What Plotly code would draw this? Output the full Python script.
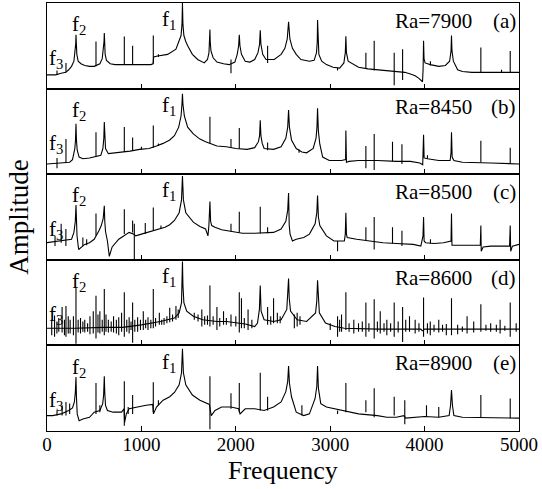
import plotly.graph_objects as go
from plotly.subplots import make_subplots

# ---------------- data (frequency, relative amplitude) ----------------
RA_VALUES = ["Ra=7900", "Ra=8450", "Ra=8500", "Ra=8600", "Ra=8900"]
PANEL_TAGS = ["(a)", "(b)", "(c)", "(d)", "(e)"]
X_TICKS = [0, 1000, 2000, 3000, 4000, 5000]

# smooth part of each spectrum (resonance cusps + background)
CURVE_A = [(0, .16), (90, .16), (150, .18), (200, .19), (230, .22), (260, .26), (285, .32), (298, .42),
           (304, .52), (307, .63), (310, .52), (316, .40), (330, .32), (360, .29), (400, .27), (450, .26),
           (500, .26), (560, .29), (585, .35), (598, .45), (604, .55), (607, .65), (610, .52), (616, .40),
           (630, .33), (670, .29), (720, .28), (800, .28), (950, .28), (1050, .28), (1100, .28), (1124, .29),
           (1130, .37), (1172, .38), (1278, .40), (1366, .46), (1401, .55), (1420, .62), (1430, .75),
           (1435, 1.0), (1440, .75), (1450, .62), (1470, .55), (1490, .50), (1540, .40), (1596, .34),
           (1666, .30), (1700, .34), (1716, .42), (1723, .55), (1726, .69), (1729, .55), (1737, .44),
           (1760, .36), (1800, .31), (1870, .29), (1930, .28), (1990, .31), (2015, .40), (2030, .50),
           (2037, .63), (2044, .50), (2060, .40), (2100, .32), (2150, .31), (2200, .34), (2235, .42),
           (2252, .52), (2259, .68), (2266, .52), (2285, .40), (2320, .34), (2407, .34), (2480, .40),
           (2520, .47), (2545, .58), (2559, .78), (2573, .58), (2600, .47), (2640, .40), (2690, .34),
           (2780, .32), (2830, .33), (2855, .42), (2863, .55), (2866, .80), (2870, .55), (2880, .40),
           (2910, .32), (2960, .28), (3030, .25), (3100, .24), (3145, .30), (3160, .42), (3166, .61),
           (3172, .42), (3190, .32), (3250, .28), (3300, .25), (3400, .23), (3500, .22), (3600, .21),
           (3700, .20), (3790, .19), (3850, .17), (3900, .15), (3940, .12), (3965, .09), (3978, .08),
           (3984, .22), (3989, .56), (3994, .35), (4005, .30), (4060, .28), (4150, .26), (4220, .27),
           (4265, .32), (4280, .44), (4285, .62), (4290, .44), (4305, .32), (4350, .22), (4400, .20),
           (4500, .19), (5000, .19)]

CURVE_B = [(0, .12), (190, .13), (240, .14), (270, .17), (295, .30), (302, .40), (307, .59), (312, .40),
           (320, .28), (340, .20), (380, .18), (450, .19), (500, .20), (570, .22), (592, .30), (602, .42),
           (607, .61), (612, .42), (620, .30), (650, .24), (750, .25), (880, .27), (980, .29), (1080, .30),
           (1160, .33), (1230, .36), (1300, .40), (1350, .45), (1395, .55), (1420, .68), (1430, .82),
           (1435, .94), (1440, .82), (1455, .68), (1490, .55), (1550, .47), (1620, .41), (1680, .38),
           (1800, .33), (1900, .32), (2000, .30), (2120, .29), (2200, .31), (2240, .38), (2252, .45),
           (2259, .63), (2266, .45), (2280, .36), (2300, .30), (2400, .29), (2480, .32), (2530, .42),
           (2550, .55), (2559, .75), (2568, .55), (2590, .40), (2640, .30), (2700, .26), (2750, .25),
           (2820, .30), (2850, .42), (2860, .55), (2866, .77), (2875, .50), (2890, .35), (2920, .20),
           (2990, .16), (3120, .16), (3163, .17), (3166, .51), (3172, .14), (3200, .15), (3300, .16),
           (3500, .16), (3700, .15), (3850, .15), (3950, .13), (3980, .11), (3989, .46), (3995, .19),
           (4030, .18), (4150, .16), (4270, .16), (4280, .25), (4285, .49), (4292, .20), (4310, .16),
           (4400, .14), (4700, .13), (5000, .12)]

CURVE_C = [(0, .20), (260, .24), (285, .32), (300, .45), (307, .64), (312, .40), (318, .28), (335, .12),
           (360, .14), (400, .18), (450, .20), (500, .24), (550, .34), (575, .40), (595, .48), (607, .63),
           (612, .45), (620, .33), (640, .22), (660, .04), (690, .15), (730, .20), (760, .24), (800, .27),
           (870, .32), (920, .30), (940, .28), (1000, .30), (1100, .33), (1190, .36), (1250, .38),
           (1300, .41), (1350, .46), (1400, .55), (1425, .70), (1435, .98), (1445, .70), (1470, .55),
           (1550, .44), (1620, .39), (1680, .36), (1705, .28), (1715, .40), (1726, .68), (1733, .45),
           (1745, .40), (1780, .38), (1850, .35), (1950, .33), (2070, .31), (2200, .31), (2400, .32),
           (2480, .36), (2530, .45), (2550, .58), (2559, .78), (2566, .40), (2575, .30), (2600, .22),
           (2640, .24), (2720, .26), (2780, .30), (2840, .42), (2858, .55), (2866, .75), (2875, .50),
           (2890, .40), (2960, .28), (3040, .22), (3150, .22), (3160, .30), (3166, .55), (3172, .30),
           (3180, .26), (3280, .24), (3400, .22), (3560, .20), (3700, .19), (3880, .18), (3960, .16),
           (3983, .28), (3989, .50), (3995, .22), (4010, .20), (4100, .19), (4200, .20), (4280, .22),
           (4285, .54), (4290, .17), (4400, .17), (4590, .17), (4596, .40), (4600, .10), (4620, .15),
           (4700, .16), (4900, .16), (4907, .40), (4912, .10), (4930, .16), (5000, .18)]

CURVE_D = [(0, .20), (300, .20), (600, .21), (800, .21), (1000, .24), (1200, .28), (1350, .32),
           (1400, .38), (1425, .50), (1432, .70), (1435, .98), (1440, .70), (1450, .50), (1480, .40),
           (1550, .34), (1650, .30), (1800, .28), (1900, .28), (2100, .25), (2200, .22), (2230, .26),
           (2250, .42), (2259, .70), (2268, .40), (2300, .30), (2400, .28), (2480, .30), (2540, .42),
           (2552, .58), (2559, .78), (2566, .55), (2580, .40), (2650, .30), (2750, .28), (2845, .38),
           (2858, .52), (2866, .76), (2874, .50), (2885, .38), (2950, .26), (3050, .22), (3150, .20),
           (3500, .19), (3960, .19), (3975, .17), (4000, .19), (5000, .19)]

CURVE_E = [(0, .18), (60, .18), (150, .20), (230, .24), (270, .27), (290, .34), (300, .45), (307, .63),
           (312, .40), (320, .20), (340, .12), (380, .14), (450, .16), (500, .22), (560, .24), (590, .32),
           (600, .42), (607, .64), (612, .45), (620, .30), (640, .24), (700, .22), (790, .22), (816, .26),
           (822, .10), (840, .20), (870, .26), (950, .28), (1050, .30), (1120, .31), (1128, .20),
           (1160, .28), (1230, .36), (1300, .40), (1350, .45), (1400, .54), (1425, .68), (1435, .96),
           (1445, .68), (1470, .54), (1540, .42), (1620, .36), (1690, .32), (1720, .31), (1740, .18),
           (1780, .24), (1850, .28), (1950, .28), (2030, .26), (2045, .20), (2100, .26), (2200, .26),
           (2300, .24), (2400, .28), (2480, .34), (2530, .46), (2550, .58), (2559, .76), (2568, .56),
           (2590, .40), (2640, .22), (2720, .18), (2780, .20), (2840, .38), (2858, .52), (2866, .76),
           (2875, .50), (2900, .32), (2960, .28), (3050, .26), (3200, .22), (3300, .20), (3500, .18),
           (3600, .16), (3700, .16), (3780, .18), (3800, .15), (3900, .16), (4000, .17), (4150, .16),
           (4260, .18), (4275, .30), (4285, .48), (4295, .30), (4310, .18), (4400, .16), (5000, .15)]

# narrow lines: (frequency, top, bottom)
SPIKES_A = [(106, .21, .16), (201, .30, .19), (519, .55, .26), (819, .61, .28), (907, .50, .28),
            (1126, .62, .29), (1180, .40, .37), (1949, .34, .18), (2337, .50, .30), (3078, .24, .21),
            (3378, .42, .23), (3466, .56, .21), (3678, .42, .04), (3767, .46, .10), (4062, .32, .27),
            (4596, .48, .19), (4815, .22, .19), (4907, .44, .19)]

SPIKES_B = [(106, .19, .07), (201, .41, .13), (519, .49, .20), (819, .55, .26), (907, .43, .27),
            (1000, .32, .29), (1126, .57, .31), (1180, .36, .33), (1726, .67, .36), (1949, .41, .31),
            (2037, .54, .30), (2337, .37, .28), (2670, .29, .25), (3378, .33, .07), (3466, .47, .05),
            (3660, .38, .15), (3760, .35, .12), (4030, .22, .18), (4596, .39, .14), (4907, .31, .12)]

SPIKES_C = [(85, .28, .16), (150, .42, .20), (200, .36, .16), (380, .26, .16), (420, .24, .17),
            (519, .54, .28), (819, .59, .30), (907, .46, .32), (925, .42, .00), (1041, .43, .30),
            (1126, .61, .34), (1207, .40, .36), (1949, .42, .33), (2037, .56, .32), (2259, .62, .31),
            (2337, .38, .31), (3078, .22, .10), (3378, .38, .23), (3466, .50, .12), (3660, .38, .19),
            (3760, .34, .16), (4062, .24, .19)]

SPIKES_D = [(50, .30, .12), (80, .35, .10), (105, .28, .14), (125, .32, .16), (160, .45, .15),
            (185, .30, .12), (201, .46, .10), (225, .34, .14), (245, .30, .14), (280, .34, .12),
            (307, .68, .02), (330, .30, .15), (355, .32, .14), (380, .28, .16), (400, .30, .15),
            (430, .26, .16), (455, .34, .13), (490, .40, .14), (519, .58, .08), (540, .36, .15),
            (560, .40, .14), (585, .30, .16), (607, .66, .12), (625, .36, .16), (650, .30, .15),
            (680, .28, .16), (705, .34, .15), (735, .30, .14), (760, .33, .12), (790, .38, .16),
            (819, .62, .10), (845, .30, .16), (870, .33, .14), (890, .28, .18), (907, .50, .03),
            (930, .30, .16), (960, .33, .16), (990, .30, .18), (1020, .40, .18), (1045, .30, .20),
            (1070, .33, .18), (1100, .30, .20), (1126, .66, .20), (1150, .32, .22), (1190, .38, .24),
            (1215, .30, .24), (1240, .32, .24), (1270, .34, .26), (1300, .44, .27), (1330, .36, .28),
            (1366, .46, .30), (1390, .42, .32), (1560, .38, .30), (1600, .36, .28), (1640, .42, .22),
            (1670, .34, .24), (1700, .35, .24), (1726, .70, .22), (1760, .34, .24), (1800, .45, .18),
            (1830, .32, .22), (1870, .40, .24), (1900, .32, .24), (1949, .36, .22), (2000, .34, .22),
            (2037, .62, .15), (2060, .55, .20), (2090, .32, .20), (2130, .42, .18), (2170, .30, .20),
            (2337, .45, .24), (2370, .34, .24), (2400, .55, .26), (2440, .38, .26), (2470, .34, .26),
            (2620, .36, .20), (2650, .38, .22), (2680, .34, .24), (3000, .26, .18), (3078, .34, .10),
            (3100, .30, .16), (3120, .36, .16), (3166, .62, .18), (3200, .26, .16), (3250, .30, .14),
            (3300, .26, .16), (3340, .28, .16), (3378, .50, .10), (3410, .26, .16), (3466, .54, .08),
            (3500, .28, .16), (3530, .40, .14), (3570, .26, .16), (3600, .30, .12), (3640, .26, .16),
            (3678, .50, .10), (3720, .28, .15), (3767, .45, .04), (3800, .30, .16), (3840, .34, .16),
            (3900, .30, .14), (3940, .26, .16), (3989, .56, .10), (4030, .26, .14), (4060, .28, .12),
            (4100, .24, .16), (4150, .30, .15), (4190, .24, .16), (4230, .25, .12), (4285, .55, .12),
            (4350, .24, .13), (4400, .22, .16), (4450, .34, .14), (4520, .28, .15), (4596, .48, .16),
            (4650, .24, .17), (4700, .26, .16), (4760, .24, .16), (4800, .30, .14), (4850, .23, .17),
            (4907, .50, .10), (4970, .26, .16)]

SPIKES_E = [(106, .24, .18), (160, .30, .18), (201, .34, .18), (240, .32, .20), (519, .56, .20),
            (560, .30, .22), (819, .58, .06), (860, .28, .20), (907, .42, .20), (1126, .57, .22),
            (1180, .36, .30), (1726, .64, .02), (1949, .44, .26), (2037, .56, .22), (2259, .68, .24),
            (2337, .40, .24), (2700, .30, .18), (3078, .24, .20), (3166, .56, .22), (3378, .36, .22),
            (3466, .50, .16), (3678, .40, .18), (3790, .36, .08), (4020, .30, .17), (4150, .28, .16),
            (4596, .42, .16), (4907, .38, .15)]

CURVES = [CURVE_A, CURVE_B, CURVE_C, CURVE_D, CURVE_E]
SPIKES = [SPIKES_A, SPIKES_B, SPIKES_C, SPIKES_D, SPIKES_E]

# ---------------- figure ----------------
FONT = "Liberation Serif"
fig = make_subplots(rows=5, cols=1, shared_xaxes=True, vertical_spacing=0)

for i, (curve, spikes) in enumerate(zip(CURVES, SPIKES), start=1):
    cx = [p[0] for p in curve]
    cy = [p[1] for p in curve]
    fig.add_trace(go.Scatter(x=cx, y=cy, mode="lines", line=dict(color="black", width=1.1),
                             showlegend=False, hoverinfo="skip"), row=i, col=1)
    sx, sy = [], []
    for f, top, bot in spikes:
        sx += [f, f, None]
        sy += [bot, top, None]
    fig.add_trace(go.Scatter(x=sx, y=sy, mode="lines", line=dict(color="black", width=1.1),
                             showlegend=False, hoverinfo="skip"), row=i, col=1)

    fig.update_xaxes(row=i, col=1, range=[0, 5000], showline=True, mirror=True, linecolor="black",
                     linewidth=1.2, ticks="inside", ticklen=5, tickwidth=1, tickcolor="black",
                     tickvals=X_TICKS, ticktext=[str(v) for v in X_TICKS],
                     showticklabels=(i == 5), showgrid=False, zeroline=False,
                     ticklabelstandoff=-4,
                     tickfont=dict(family=FONT, size=19, color="black"))
    fig.update_yaxes(row=i, col=1, range=[0, 1.0], showline=True, mirror=True, linecolor="black",
                     linewidth=1.2, ticks="", showticklabels=False, showgrid=False, zeroline=False)

    suffix = "" if i == 1 else str(i)
    xd, yd = f"x{suffix} domain", f"y{suffix} domain"
    lab_font = dict(family=FONT, size=21, color="black")
    fig.add_annotation(text=RA_VALUES[i - 1], xref=xd, yref=yd, x=0.905, y=0.79,
                       xanchor="right", yanchor="middle", showarrow=False, font=lab_font)
    fig.add_annotation(text=PANEL_TAGS[i - 1], xref=xd, yref=yd, x=0.997, y=0.79,
                       xanchor="right", yanchor="middle", showarrow=False, font=lab_font)
    fig.add_annotation(text="f<sub>1</sub>", xref=xd, yref=yd, x=0.258, y=0.80,
                       xanchor="center", yanchor="middle", showarrow=False, font=lab_font)
    fig.add_annotation(text="f<sub>2</sub>", xref=xd, yref=yd, x=0.068, y=0.74,
                       xanchor="center", yanchor="middle", showarrow=False, font=lab_font)
    fig.add_annotation(text="f<sub>3</sub>", xref=xd, yref=yd, x=0.0, y=0.35,
                       xanchor="left", yanchor="middle", showarrow=False, font=lab_font)

fig.add_annotation(text="Frequency", xref="paper", yref="paper", x=0.5, y=-0.092,
                   xanchor="center", yanchor="middle", showarrow=False,
                   font=dict(family=FONT, size=26, color="black"))
fig.add_annotation(text="Amplitude", xref="paper", yref="paper", x=-0.06, y=0.5,
                   xanchor="center", yanchor="middle", textangle=-90, showarrow=False,
                   font=dict(family=FONT, size=27, color="black"))

fig.update_layout(width=542, height=489, margin=dict(l=47, r=23, t=3, b=58),
                  paper_bgcolor="white", plot_bgcolor="white")

fig.write_html("out.html")
